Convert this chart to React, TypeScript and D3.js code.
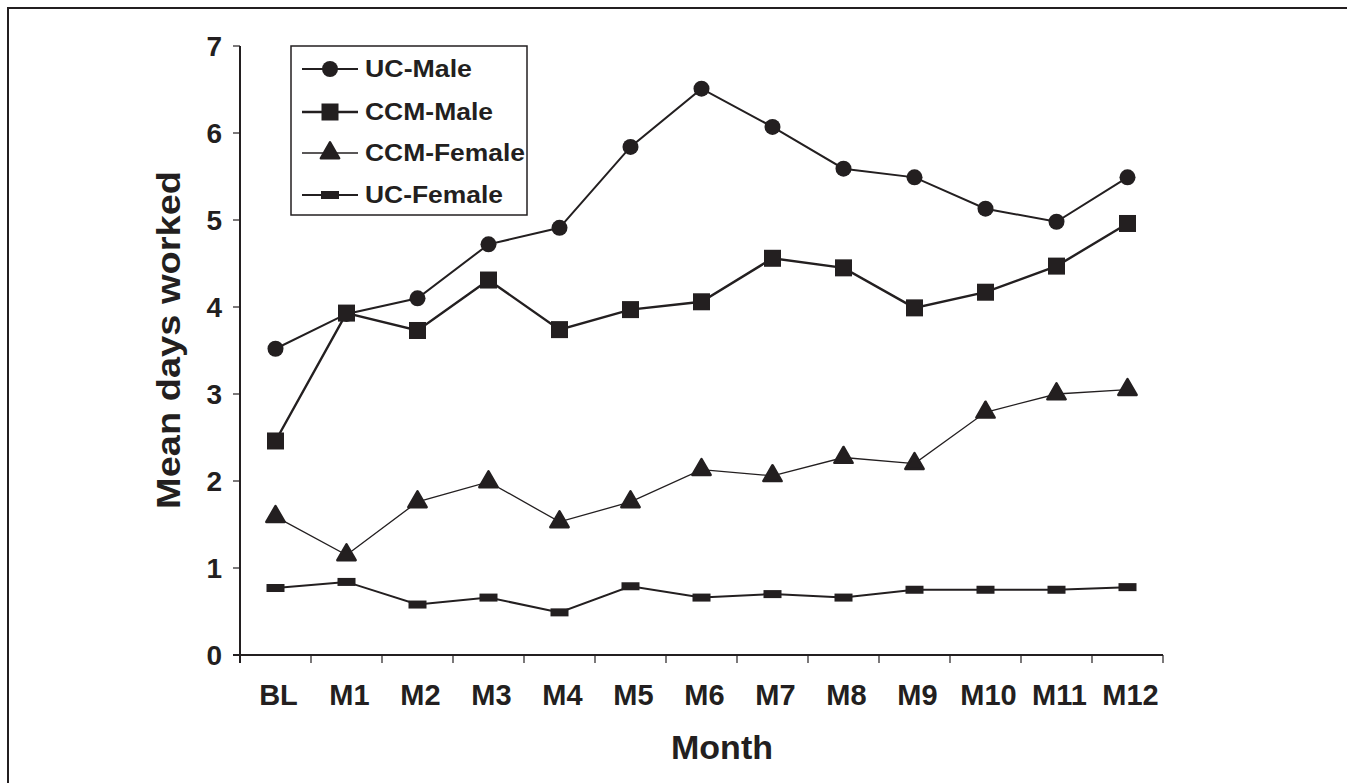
import React from "react";
import * as d3 from "d3";

const months = ["BL", "M1", "M2", "M3", "M4", "M5", "M6", "M7", "M8", "M9", "M10", "M11", "M12"];
const ucMale = [3.52, 3.92, 4.1, 4.72, 4.91, 5.84, 6.51, 6.07, 5.59, 5.49, 5.13, 4.98, 5.49];
const ccmMale = [2.46, 3.93, 3.73, 4.31, 3.74, 3.97, 4.06, 4.56, 4.45, 3.99, 4.17, 4.47, 4.96];
const ccmFemale = [1.59, 1.15, 1.76, 1.99, 1.53, 1.76, 2.13, 2.06, 2.27, 2.2, 2.79, 3.0, 3.05];
const ucFemale = [0.77, 0.84, 0.58, 0.66, 0.49, 0.79, 0.66, 0.7, 0.66, 0.75, 0.75, 0.75, 0.78];
const yTicks = [0, 1, 2, 3, 4, 5, 6, 7];

const INK = "#231f20";
const FONT = "'Liberation Sans', Arial, sans-serif";

type Series = { name: string; values: number[]; marker: string; lw: number; textLen: number };
const series: Series[] = [
  { name: "UC-Male", values: ucMale, marker: "circle", lw: 2, textLen: 107 },
  { name: "CCM-Male", values: ccmMale, marker: "square", lw: 2.4, textLen: 128 },
  { name: "CCM-Female", values: ccmFemale, marker: "triangle", lw: 1.3, textLen: 160 },
  { name: "UC-Female", values: ucFemale, marker: "bar", lw: 2, textLen: 138 },
];

function Marker({ kind, x, y }: { kind: string; x: number; y: number }) {
  if (kind === "circle") return <circle cx={x} cy={y} r={8} fill={INK} />;
  if (kind === "square") return <rect x={x - 8.5} y={y - 8.5} width={17} height={17} fill={INK} />;
  if (kind === "triangle") {
    const p = d3.symbol().type(d3.symbolTriangle).size(145)();
    return (
      <path d={p || ""} transform={`translate(${x},${y})`} fill={INK} stroke={INK} strokeWidth={2.5} strokeLinejoin="round" />
    );
  }
  return <rect x={x - 9} y={y - 4} width={18} height={8} fill={INK} />;
}

export default function App() {
  const W = 1347;
  const H = 783;
  const x = d3.scaleBand<string>().domain(months).range([240, 1163]).padding(0);
  const y = d3.scaleLinear().domain([0, 7]).range([655, 46]);
  const cx = (m: string) => (x(m) as number) + x.bandwidth() / 2;
  const line = d3
    .line<number>()
    .x((_, i) => cx(months[i]))
    .y((v) => y(v));

  const boundaries = months.map((m) => x(m) as number).concat([1163]);

  const legendRows = [69, 112, 153, 195];

  return (
    <svg width={W} height={H} style={{ position: "absolute", left: 0, top: 0 }} fontFamily={FONT}>
      <rect x={0} y={0} width={W} height={H} fill="#fff" />
      {/* outer frame (continues past the image edges) */}
      <rect x={8} y={8} width={W + 20} height={H + 20} fill="none" stroke={INK} strokeWidth={2} />

      {/* axes */}
      <line x1={240} y1={y(7)} x2={240} y2={y(0) + 8} stroke={INK} strokeWidth={2} />
      <line x1={233} y1={y(0)} x2={1163} y2={y(0)} stroke={INK} strokeWidth={2} />
      {yTicks.map((t) => (
        <g key={t}>
          <line x1={233} x2={240} y1={y(t)} y2={y(t)} stroke={INK} strokeWidth={1.2} />
          <text x={222} y={y(t) + 10} textAnchor="end" fontSize={28} fontWeight="bold" fill={INK}>
            {t}
          </text>
        </g>
      ))}
      {boundaries.map((b, i) => (
        <line key={i} x1={b} x2={b} y1={y(0)} y2={y(0) + 8} stroke={INK} strokeWidth={1.2} />
      ))}
      {months.map((m) => (
        <text key={m} x={cx(m) + 3} y={705} textAnchor="middle" fontSize={29} fontWeight="bold" fill={INK}>
          {m}
        </text>
      ))}
      <text x={722} y={759} textAnchor="middle" fontSize={34} fontWeight="bold" fill={INK}>
        Month
      </text>
      <text
        transform={`translate(180,340) rotate(-90)`}
        textAnchor="middle"
        fontSize={33}
        fontWeight="bold"
        fill={INK}
        textLength={338}
        lengthAdjust="spacingAndGlyphs"
      >
        Mean days worked
      </text>

      {/* series */}
      {series.map((s) => (
        <g key={s.name}>
          <path d={line(s.values) || ""} fill="none" stroke={INK} strokeWidth={s.lw} />
          {s.values.map((v, i) => (
            <Marker key={i} kind={s.marker} x={cx(months[i])} y={y(v)} />
          ))}
        </g>
      ))}

      {/* legend */}
      <rect x={291} y={46} width={236} height={169} fill="#fff" stroke={INK} strokeWidth={1.5} />
      {series.map((s, i) => (
        <g key={s.name}>
          <line x1={302} x2={358} y1={legendRows[i]} y2={legendRows[i]} stroke={INK} strokeWidth={s.lw} />
          <Marker kind={s.marker} x={330} y={legendRows[i]} />
          <text
            x={365}
            y={legendRows[i] + 8}
            fontSize={23}
            fontWeight="bold"
            fill={INK}
            textLength={s.textLen}
            lengthAdjust="spacingAndGlyphs"
          >
            {s.name}
          </text>
        </g>
      ))}
    </svg>
  );
}
